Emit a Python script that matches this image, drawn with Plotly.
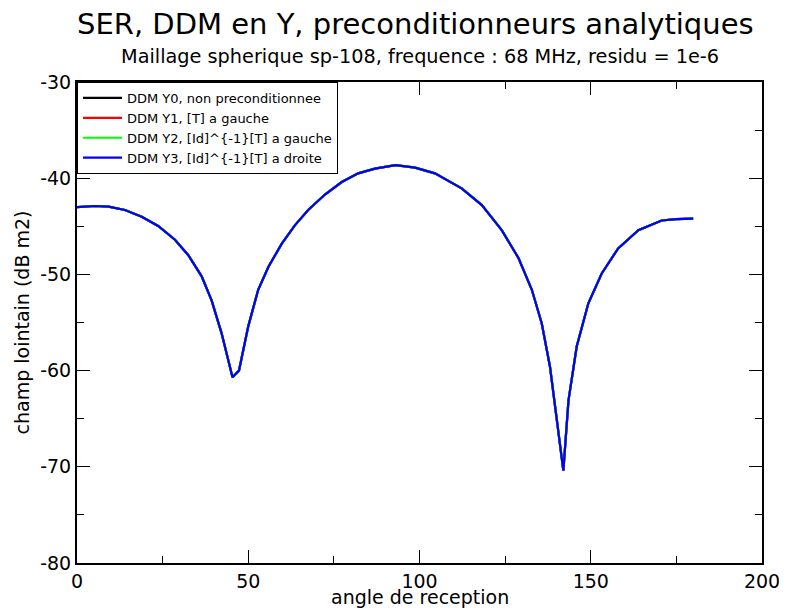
import plotly.graph_objects as go

angle = [0, 5.3, 9.2, 14.0, 18.9, 23.7, 28.6, 32.5, 36.4, 39.3, 42.2, 43.9, 45.4, 47.3,
         50.0, 52.9, 55.9, 59.8, 63.6, 67.5, 72.4, 77.3, 82.1, 87.0, 93.0, 98.7, 104.5,
         112.3, 118.2, 124.0, 128.9, 132.8, 135.7, 138.1, 140.1, 142.0, 143.5, 145.9,
         149.3, 153.2, 158.0, 163.9, 170.7, 175.0, 179.9]
champ = [-43.0, -42.89, -42.96, -43.3, -44.0, -44.97, -46.4, -48.0, -50.2, -52.7, -56.1,
         -58.4, -60.7, -60.0, -55.4, -51.6, -49.2, -46.8, -44.9, -43.3, -41.7, -40.4,
         -39.5, -39.0, -38.65, -38.9, -39.5, -41.05, -42.8, -45.4, -48.3, -51.6, -55.1,
         -59.6, -65.1, -70.4, -63.1, -57.5, -53.0, -49.9, -47.3, -45.4, -44.4, -44.25,
         -44.2]

series_names = ["DDM Y0, non preconditionnee", "DDM Y1, [T] a gauche",
                "DDM Y2, [Id]^{-1}[T] a gauche", "DDM Y3, [Id]^{-1}[T] a droite"]
series_colors = ["#000000", "#ff0000", "#00ff00", "#0000ff"]
series_values = [champ, champ, champ, champ]

x_ticks = [0, 50, 100, 150, 200]
y_ticks = [-80, -70, -60, -50, -40, -30]

fig = go.Figure()
for name, color, vals in zip(series_names, series_colors, series_values):
    fig.add_trace(go.Scatter(x=angle, y=vals, mode="lines", name=name,
                             line=dict(color=color, width=2.2)))

font = "DejaVu Sans"
fig.update_layout(
    width=779, height=602,
    margin=dict(l=69, r=25, t=74, b=47, autoexpand=False),
    paper_bgcolor="white", plot_bgcolor="white",
    font=dict(family=font, color="black"),
    legend=dict(x=0, y=1, xanchor="left", yanchor="top",
                bordercolor="black", borderwidth=1, bgcolor="white",
                font=dict(size=13, family=font), itemwidth=39,
                tracegroupgap=0),
    showlegend=True,
    annotations=[
        dict(text="SER, DDM en Y, preconditionneurs analytiques", xref="paper", yref="paper",
             x=0.494, y=1.1206, xanchor="center", yanchor="middle", showarrow=False,
             font=dict(size=29, family=font)),
        dict(text="Maillage spherique sp-108, frequence : 68 MHz, residu = 1e-6",
             xref="paper", yref="paper", x=0.5, y=1.052, xanchor="center", yanchor="middle",
             showarrow=False, font=dict(size=19.3, family=font)),
        dict(text="angle de reception", xref="paper", yref="paper", x=0.5, y=-0.0707,
             xanchor="center", yanchor="middle", showarrow=False, font=dict(size=19, family=font)),
        dict(text="champ lointain (dB m2)", xref="paper", yref="paper", x=-0.0803, y=0.5,
             xanchor="center", yanchor="middle", textangle=-90, showarrow=False,
             font=dict(size=19, family=font)),
    ],
)
fig.update_xaxes(range=[0, 200], tickvals=x_ticks, ticktext=[str(v) for v in x_ticks],
                 ticks="inside", ticklen=13, tickwidth=1, tickcolor="black",
                 minor=dict(dtick=25, tick0=0, ticks="inside", ticklen=7, tickwidth=1, tickcolor="black"),
                 showline=True, linewidth=2, linecolor="black", mirror="allticks",
                 showgrid=False, zeroline=False, automargin=False,
                 tickfont=dict(size=19, family=font))
fig.update_yaxes(range=[-80, -30], tickvals=y_ticks, ticktext=[str(v) for v in y_ticks],
                 ticks="inside", ticklen=13, tickwidth=1, tickcolor="black",
                 minor=dict(dtick=5, tick0=-80, ticks="inside", ticklen=7, tickwidth=1, tickcolor="black"),
                 showline=True, linewidth=2, linecolor="black", mirror="allticks",
                 showgrid=False, zeroline=False, automargin=False,
                 tickfont=dict(size=19, family=font))

fig.write_html("out.html")
